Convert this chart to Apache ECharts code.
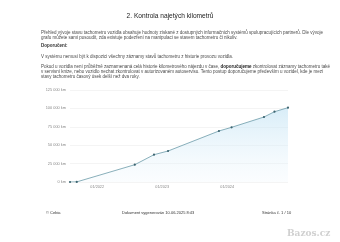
<!DOCTYPE html>
<html>
<head>
<meta charset="utf-8">
<script src="https://cdn.jsdelivr.net/npm/echarts@6/dist/echarts.min.js"></script>
<style>
html,body{margin:0;padding:0;background:#fff;}
#c{width:340px;height:242px;}
</style>
</head>
<body>
<div id="c"></div>
<script>
// ---- data ----
const dates = ['2021-08-01','2021-09-08','2022-07-31','2022-11-16','2023-02-03','2023-11-16','2024-01-26','2024-07-26','2024-09-23','2024-12-08'];
const km = [0, 150, 23500, 37100, 42100, 69300, 74300, 88300, 95500, 101000];
const xTickDates = ['2022-01-01','2023-01-01','2024-01-01'];
const yTicks = [0, 25000, 50000, 75000, 100000, 125000];

const title = '2. Kontrola najetých kilometrů';
const paraLines = [
  'Přehled vývoje stavu tachometru vozidla obsahuje hodnoty získané z dostupných informačních systémů spolupracujících partnerů. Dle vývoje',
  'grafu můžete sami posoudit, zda existuje podezření na manipulaci se stavem tachometru či nikoliv.'
];
const recHead = 'Doporučení:';
const recLine = 'V systému nemusí být k dispozici všechny záznamy stavů tachometru z historie provozu vozidla.';
const para2 = [
  ['Pokud u vozidla není průběžně zaznamenaná celá historie kilometrového nájezdu v čase, ', '{b|doporučujeme}', ' zkontrolovat záznamy tachometru také'],
  ['v servisní knize, nebo vozidlo nechat zkontrolovat v autorizovaném autoservisu. Tento postup doporučujeme především u vozidel, kde je mezi'],
  ['stavy tachometru časový úsek delší než dva roky.']
];
const footer = ['© Cebia', 'Dokument vygenerován 10.06.2025 8:43', 'Stránka č. 1 / 10'];
const watermark = 'Bazos.cz';

function parseD(s){ const p = s.split('-').map(Number); return Date.UTC(p[0], p[1]-1, p[2]); }
function fmtKm(v){ return String(Math.round(v)).replace(/\B(?=(\d{3})+(?!\d))/g, ' ') + ' km'; }

const seriesData = dates.map((d,i)=>[parseD(d), km[i]]);
const FONT = 'Liberation Sans, Arial, sans-serif';
const txtSize = 4.5;
const txtColor = '#4a4a4a';

const graphics = [];
graphics.push({type:'text', left:'center', top:13, style:{text:title, font:'6.6px ' + FONT, fill:'#222'}});
paraLines.forEach((t,i)=>graphics.push({type:'text', left:41, top:30.3 + i*4.6, style:{text:t, font: txtSize+'px '+FONT, fill:txtColor}}));
graphics.push({type:'text', left:41, top:43, style:{text:recHead, font:'bold '+txtSize+'px '+FONT, fill:'#333'}});
graphics.push({type:'text', left:41, top:54.5, style:{text:recLine, font: txtSize+'px '+FONT, fill:txtColor}});
para2.forEach((parts,i)=>graphics.push({type:'text', left:41, top:63.8 + i*5.2, style:{text:parts.join(''), font: txtSize+'px '+FONT, fill:txtColor, rich:{b:{fontWeight:'bold', fontSize:txtSize, fontFamily:FONT, fill:'#222'}}}}));
graphics.push({type:'text', left:46, top:211, style:{text:footer[0], font:'4px '+FONT, fill:'#333'}});
graphics.push({type:'text', left:122, top:211, style:{text:footer[1], font:'4px '+FONT, fill:'#333'}});
graphics.push({type:'text', left:262, top:211, style:{text:footer[2], font:'4px '+FONT, fill:'#333'}});
graphics.push({type:'text', left:287, top:229, style:{text:watermark, font:'bold 9px DejaVu Serif, serif', fill:'#d0d0d0'}});

const chart = echarts.init(document.getElementById('c'), null, {renderer:'canvas'});
chart.setOption({
  animation:false,
  backgroundColor:'#fff',
  grid:{left:70, right:52, top:90, bottom:60},
  xAxis:{
    type:'value',
    min: seriesData[0][0],
    max: seriesData[seriesData.length-1][0],
    axisLine:{show:false},
    axisTick:{show:false},
    splitLine:{show:false},
    axisLabel:{
      customValues: xTickDates.map(parseD),
      hideOverlap:false,
      formatter: function(v){ const d = new Date(v); return String(d.getUTCMonth()+1).padStart(2,'0') + '/' + d.getUTCFullYear(); },
      fontSize:3.8, color:'#888', fontFamily:FONT, margin:2.5
    }
  },
  yAxis:{
    type:'value',
    min:yTicks[0], max:yTicks[yTicks.length-1], interval:25000,
    axisLine:{show:false},
    axisTick:{show:false},
    splitLine:{lineStyle:{color:'#ececec', width:0.6}},
    axisLabel:{formatter:fmtKm, fontSize:3.9, color:'#888', fontFamily:FONT, margin:4}
  },
  series:[{
    type:'line',
    data:seriesData,
    symbol:'circle',
    symbolSize:2.2,
    showAllSymbol:true,
    lineStyle:{color:'#6b9aa8', width:0.8},
    itemStyle:{color:'#3c6470'},
    areaStyle:{color:new echarts.graphic.LinearGradient(0,0,0,1,[
      {offset:0, color:'rgba(190,225,243,0.85)'},
      {offset:1, color:'rgba(240,248,253,0.4)'}
    ])}
  }],
  graphic: graphics
});
</script>
</body>
</html>
